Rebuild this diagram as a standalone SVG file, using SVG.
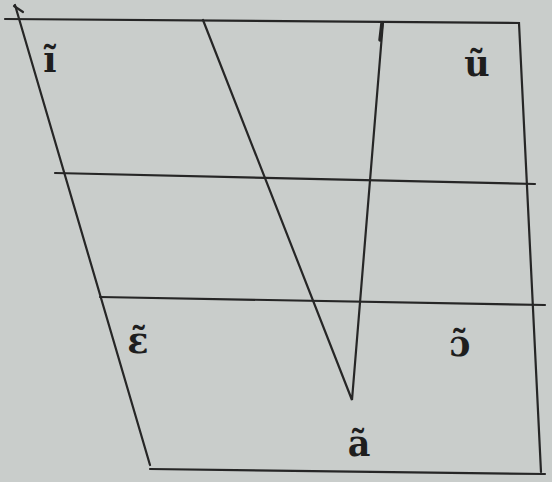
<svg xmlns="http://www.w3.org/2000/svg" width="552" height="482" viewBox="0 0 552 482">
<style>
.ln{stroke:#262626;stroke-width:2.2;fill:none;stroke-linecap:round}
.lb{font-family:"DejaVu Serif","Liberation Serif",serif;font-weight:bold;font-size:35px;fill:#1e1e1e;text-anchor:middle}
</style>
<rect width="552" height="482" fill="#c9cdcb"/>
<g id="grid">
<path class="ln" d="M5,19 L519,23 L541,472"/>
<path class="ln" d="M15,5 L150,465"/>
<path class="ln" d="M14,6 L23,12"/>
<path class="ln" d="M150,469 L545,474"/>
<path class="ln" d="M55,173 L535,184"/>
<path class="ln" d="M100,297 L545,305"/>
<path class="ln" d="M203,20 L352,400 L383,22"/>
<path class="ln" style="stroke-width:3.5" d="M382,23 L380,40"/>
</g>
<g id="v-i"><text class="lb" x="50" y="72">ĩ</text></g>
<g id="v-u"><text class="lb" x="477" y="76">ũ</text></g>
<g id="v-e"><text class="lb" x="138" y="353">ɛ̃</text></g>
<g id="v-o"><text class="lb" x="460" y="356">ɔ̃</text></g>
<g id="v-a"><text class="lb" x="359" y="456">ã</text></g>
</svg>
